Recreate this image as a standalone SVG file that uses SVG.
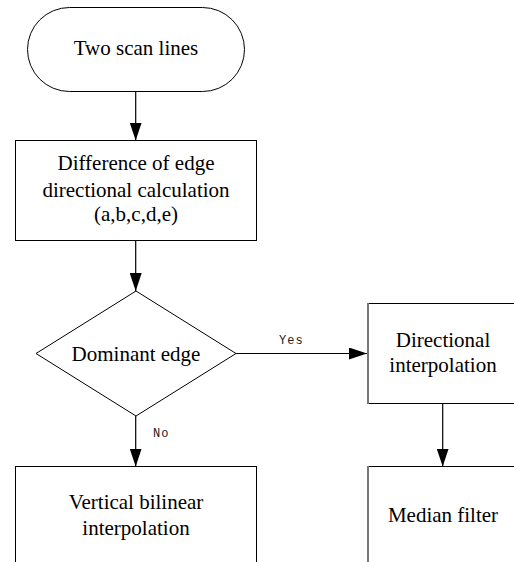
<svg xmlns="http://www.w3.org/2000/svg" width="514" height="562" viewBox="0 0 514 562">
<style>
.shape{fill:#fff;stroke:#000;stroke-width:1}
.gray{stroke:#777;stroke-width:2}
.t{font-family:'Liberation Serif','Times New Roman',serif;font-size:21px;fill:#000;text-anchor:middle}
.lbl{font-family:'Liberation Mono','Courier New',monospace;font-size:12px;fill:#222;letter-spacing:1px}
.conn{stroke:#000;stroke-width:1.2;fill:none;marker-end:url(#arr)}
</style>
<defs>
<marker id="arr" markerWidth="18" markerHeight="12" refX="18" refY="6" viewBox="0 0 18 12" orient="auto" markerUnits="userSpaceOnUse">
<path d="M0,0 L18,6 L0,12 Z" fill="#000"/>
</marker>
</defs>
<rect width="514" height="562" fill="#fff"/>
<g id="start">
<rect class="shape" x="27.5" y="7.5" width="217" height="84" rx="42" ry="42"/>
<text class="t" font-family="Liberation Serif, serif" x="136" y="55">Two scan lines</text>
</g>
<g id="diffcalc">
<rect class="shape" x="15.5" y="140.5" width="241" height="100"/>
<text class="t" font-family="Liberation Serif, serif" x="136" y="170">Difference of edge</text>
<text class="t" font-family="Liberation Serif, serif" x="136" y="197">directional calculation</text>
<text class="t" font-family="Liberation Serif, serif" x="136" y="221">(a,b,c,d,e)</text>
</g>
<g id="dominant">
<polygon class="shape" points="136,291 236,353.5 136,416 36,353.5"/>
<text class="t" font-family="Liberation Serif, serif" x="136" y="361">Dominant edge</text>
</g>
<g id="dirinterp">
<rect class="shape" x="368" y="303.5" width="160" height="100"/>
<line class="gray" x1="368" y1="303" x2="368" y2="404"/>
<text class="t" font-family="Liberation Serif, serif" x="443" y="347">Directional</text>
<text class="t" font-family="Liberation Serif, serif" x="443" y="372">interpolation</text>
</g>
<g id="median">
<rect class="shape" x="368" y="466.5" width="160" height="110"/>
<line class="gray" x1="368" y1="466" x2="368" y2="562"/>
<text class="t" font-family="Liberation Serif, serif" x="443" y="522">Median filter</text>
</g>
<g id="vertbil">
<rect class="shape" x="15.5" y="466.5" width="241" height="110"/>
<text class="t" font-family="Liberation Serif, serif" x="136" y="509">Vertical bilinear</text>
<text class="t" font-family="Liberation Serif, serif" x="136" y="535">interpolation</text>
</g>
<g id="connectors">
<line class="conn" x1="135.7" y1="91.5" x2="135.7" y2="140.5"/>
<line class="conn" x1="135.7" y1="240.5" x2="135.7" y2="291"/>
<line class="conn" x1="236" y1="353.5" x2="367" y2="353.5"/>
<line class="conn" x1="135.7" y1="416" x2="135.7" y2="466.5"/>
<line class="conn" x1="442.7" y1="403.5" x2="442.7" y2="466.5"/>
<text class="lbl" font-family="Liberation Mono, monospace" x="279" y="344">Yes</text>
<text class="lbl" font-family="Liberation Mono, monospace" x="153" y="437">No</text>
</g>
</svg>
